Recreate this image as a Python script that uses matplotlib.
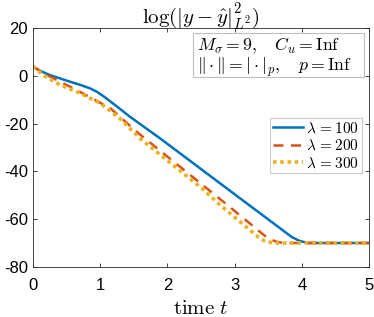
import matplotlib
matplotlib.use('Agg')
import matplotlib.pyplot as plt
from matplotlib.patches import Rectangle

# values
t_100 = [0, 0.1, 0.25, 0.55, 0.7, 0.85, 0.95, 1.05, 1.2, 1.44, 1.89, 2.9, 3.85, 3.97, 4.1, 5]
err_100 = [4, 2.1, 0.3, -2.5, -3.8, -5.3, -6.7, -8.6, -11.8, -17.1, -26.2, -47.5, -67.5, -69.2, -70, -70]

t_200 = [0, 0.15, 0.3, 0.65, 1.15, 1.54, 2.58, 2.83, 3.45, 3.6, 3.72, 5]
err_200 = [4, 1, -1, -6, -13.6, -23.4, -47, -52.7, -67, -69.3, -70, -70]

t_300 = [0, 0.15, 0.4, 0.7, 1.0, 1.29, 1.59, 2.53, 2.78, 3.35, 3.45, 3.58, 5]
err_300 = [4, 0.3, -3.8, -7.3, -11.5, -17.8, -26.2, -47.5, -54, -67.5, -69.2, -70, -70]

labels = [r'$\lambda\,=100$', r'$\lambda\,=200$', r'$\lambda\,=300$']

plt.rcParams['mathtext.fontset'] = 'cm'
plt.rcParams['font.family'] = ['Liberation Sans', 'DejaVu Sans']
plt.rcParams['axes.unicode_minus'] = False

fig = plt.figure(figsize=(3.74, 3.17), dpi=100)
ax = fig.add_axes([0.088, 0.158, 0.899, 0.754])

ax.plot(t_100, err_100, color='#0072BD', lw=1.8, ls='-', label=labels[0])
ax.plot(t_200, err_200, color='#D95319', lw=1.8, ls=(0, (4, 3)), label=labels[1])
ax.plot(t_300, err_300, color='#EDB120', lw=2.6, ls=(0, (1, 1)), label=labels[2])

ax.set_xlim(0, 5)
ax.set_ylim(-80, 20)
ax.set_xticks([0, 1, 2, 3, 4, 5])
ax.set_yticks([-80, -60, -40, -20, 0, 20])
ax.tick_params(direction='in', top=True, right=True, labelsize=12, length=3,
               color='#262626', width=0.6)
ax.tick_params(axis='x', pad=8)
for s in ax.spines.values():
    s.set_linewidth(0.6)
    s.set_color('#262626')

ax.set_title(r'$\log(|y-\hat{y}|^2_{L^2})$', fontsize=15, pad=3)
ax.set_xlabel(r'$\mathrm{time}\ t$', fontsize=15, labelpad=4)

# annotation box
ax.add_patch(Rectangle((0.476, 0.795), 0.509, 0.184, transform=ax.transAxes,
                       fc='white', ec='#bfbfbf', lw=0.8, zorder=5))
ax.text(0.488, 0.972,
        r'$M_\sigma=9,\quad C_u=\mathrm{Inf}$' + '\n' +
        r'$\|\cdot\|=|\cdot|_p,\quad p=\mathrm{Inf}$',
        transform=ax.transAxes, ha='left', va='top', fontsize=12.75,
        linespacing=1.05, zorder=6)

leg = ax.legend(loc='upper right', bbox_to_anchor=(0.979, 0.623), fontsize=11,
                frameon=True, fancybox=False, handlelength=2.0, handletextpad=0.2,
                borderpad=0.2, labelspacing=0.2, borderaxespad=0)
leg.get_frame().set_edgecolor('#bfbfbf')
leg.get_frame().set_linewidth(0.8)

fig.savefig('out.png', dpi=100)
